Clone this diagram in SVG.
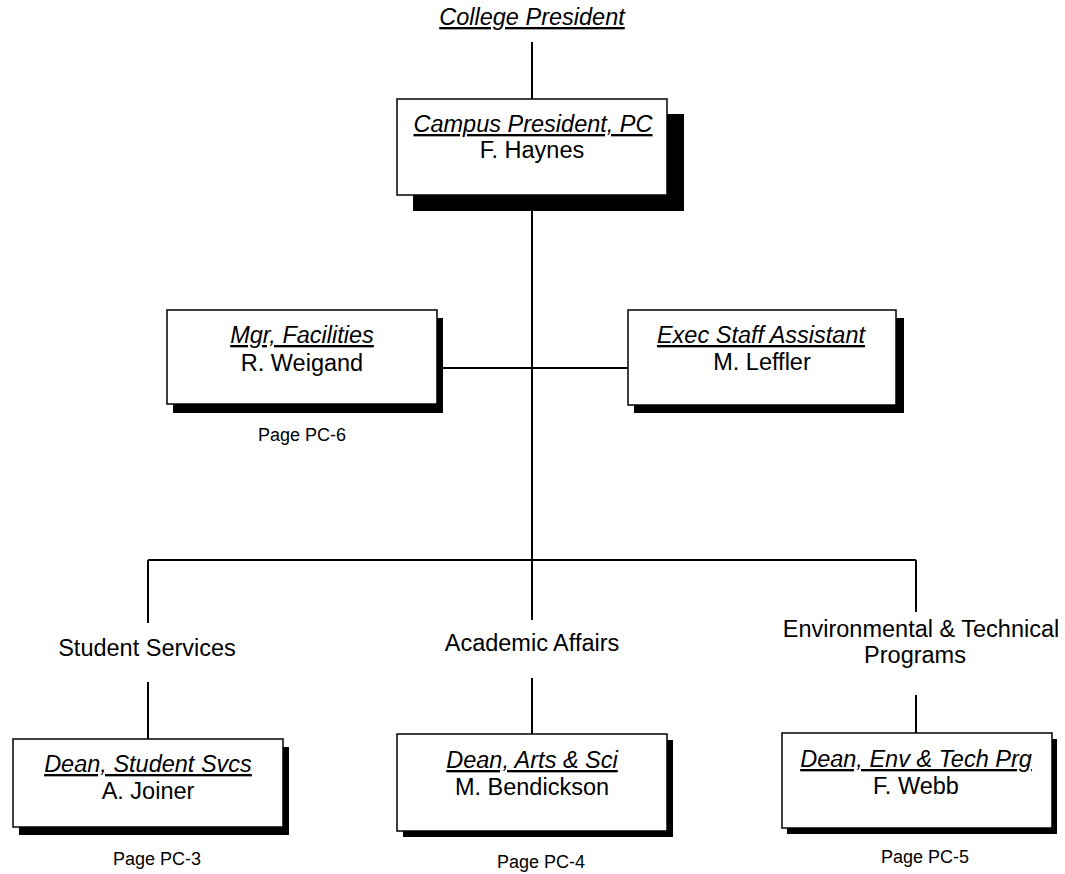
<svg xmlns="http://www.w3.org/2000/svg" width="1065" height="874" viewBox="0 0 1065 874">
<style>
.bx{fill:#fff;stroke:#000;stroke-width:1.5}
.sh{fill:#000}
.ln{stroke:#000;stroke-width:2;fill:none}
text{font-family:"Liberation Sans",Arial,sans-serif;font-size:23.5px;fill:#000;text-anchor:middle}
.t{font-style:italic;text-decoration:underline}
.pg{font-size:18px}
</style>
<rect width="1065" height="874" fill="#fff"/>
<g id="connectors">
<path class="ln" d="M532 42V99M532 195V560M437 368H628M148 560H916M148 560V623M148 682V739M532 560V620M532 678V734M916 560V612M916 695V733"/>
</g>
<g id="college-president">
<text class="t" x="532" y="25">College President</text>
</g>
<g id="campus-president">
<rect class="sh" x="413" y="114" width="271" height="97"/>
<rect class="bx" x="397" y="99" width="270" height="96"/>
<text class="t" x="533" y="132">Campus President, PC</text>
<text x="532" y="158">F. Haynes</text>
</g>
<g id="mgr-facilities">
<rect class="sh" x="173" y="318" width="270" height="95"/>
<rect class="bx" x="167" y="310" width="270" height="94"/>
<text class="t" x="302" y="343">Mgr, Facilities</text>
<text x="302" y="371">R. Weigand</text>
<text class="pg" x="302" y="441">Page PC-6</text>
</g>
<g id="exec-staff">
<rect class="sh" x="634" y="318" width="270" height="95"/>
<rect class="bx" x="628" y="310" width="268" height="95"/>
<text class="t" x="761" y="343">Exec Staff Assistant</text>
<text x="762" y="370">M. Leffler</text>
</g>
<g id="student-services">
<text x="147" y="656">Student Services</text>
<rect class="sh" x="19" y="747" width="270" height="88"/>
<rect class="bx" x="13" y="739" width="270" height="88"/>
<text class="t" x="148" y="772">Dean, Student Svcs</text>
<text x="148" y="799">A. Joiner</text>
<text class="pg" x="157" y="865">Page PC-3</text>
</g>
<g id="academic-affairs">
<text x="532" y="651">Academic Affairs</text>
<rect class="sh" x="403" y="740" width="270" height="97"/>
<rect class="bx" x="397" y="734" width="270" height="97"/>
<text class="t" x="532" y="768">Dean, Arts &amp; Sci</text>
<text x="532" y="795">M. Bendickson</text>
<text class="pg" x="541" y="868">Page PC-4</text>
</g>
<g id="env-tech">
<text x="921" y="637">Environmental &amp; Technical</text>
<text x="915" y="663">Programs</text>
<rect class="sh" x="787" y="739" width="270" height="95"/>
<rect class="bx" x="782" y="733" width="270" height="95"/>
<text class="t" x="916" y="767">Dean, Env &amp; Tech Prg</text>
<text x="916" y="794">F. Webb</text>
<text class="pg" x="925" y="863">Page PC-5</text>
</g>
</svg>
